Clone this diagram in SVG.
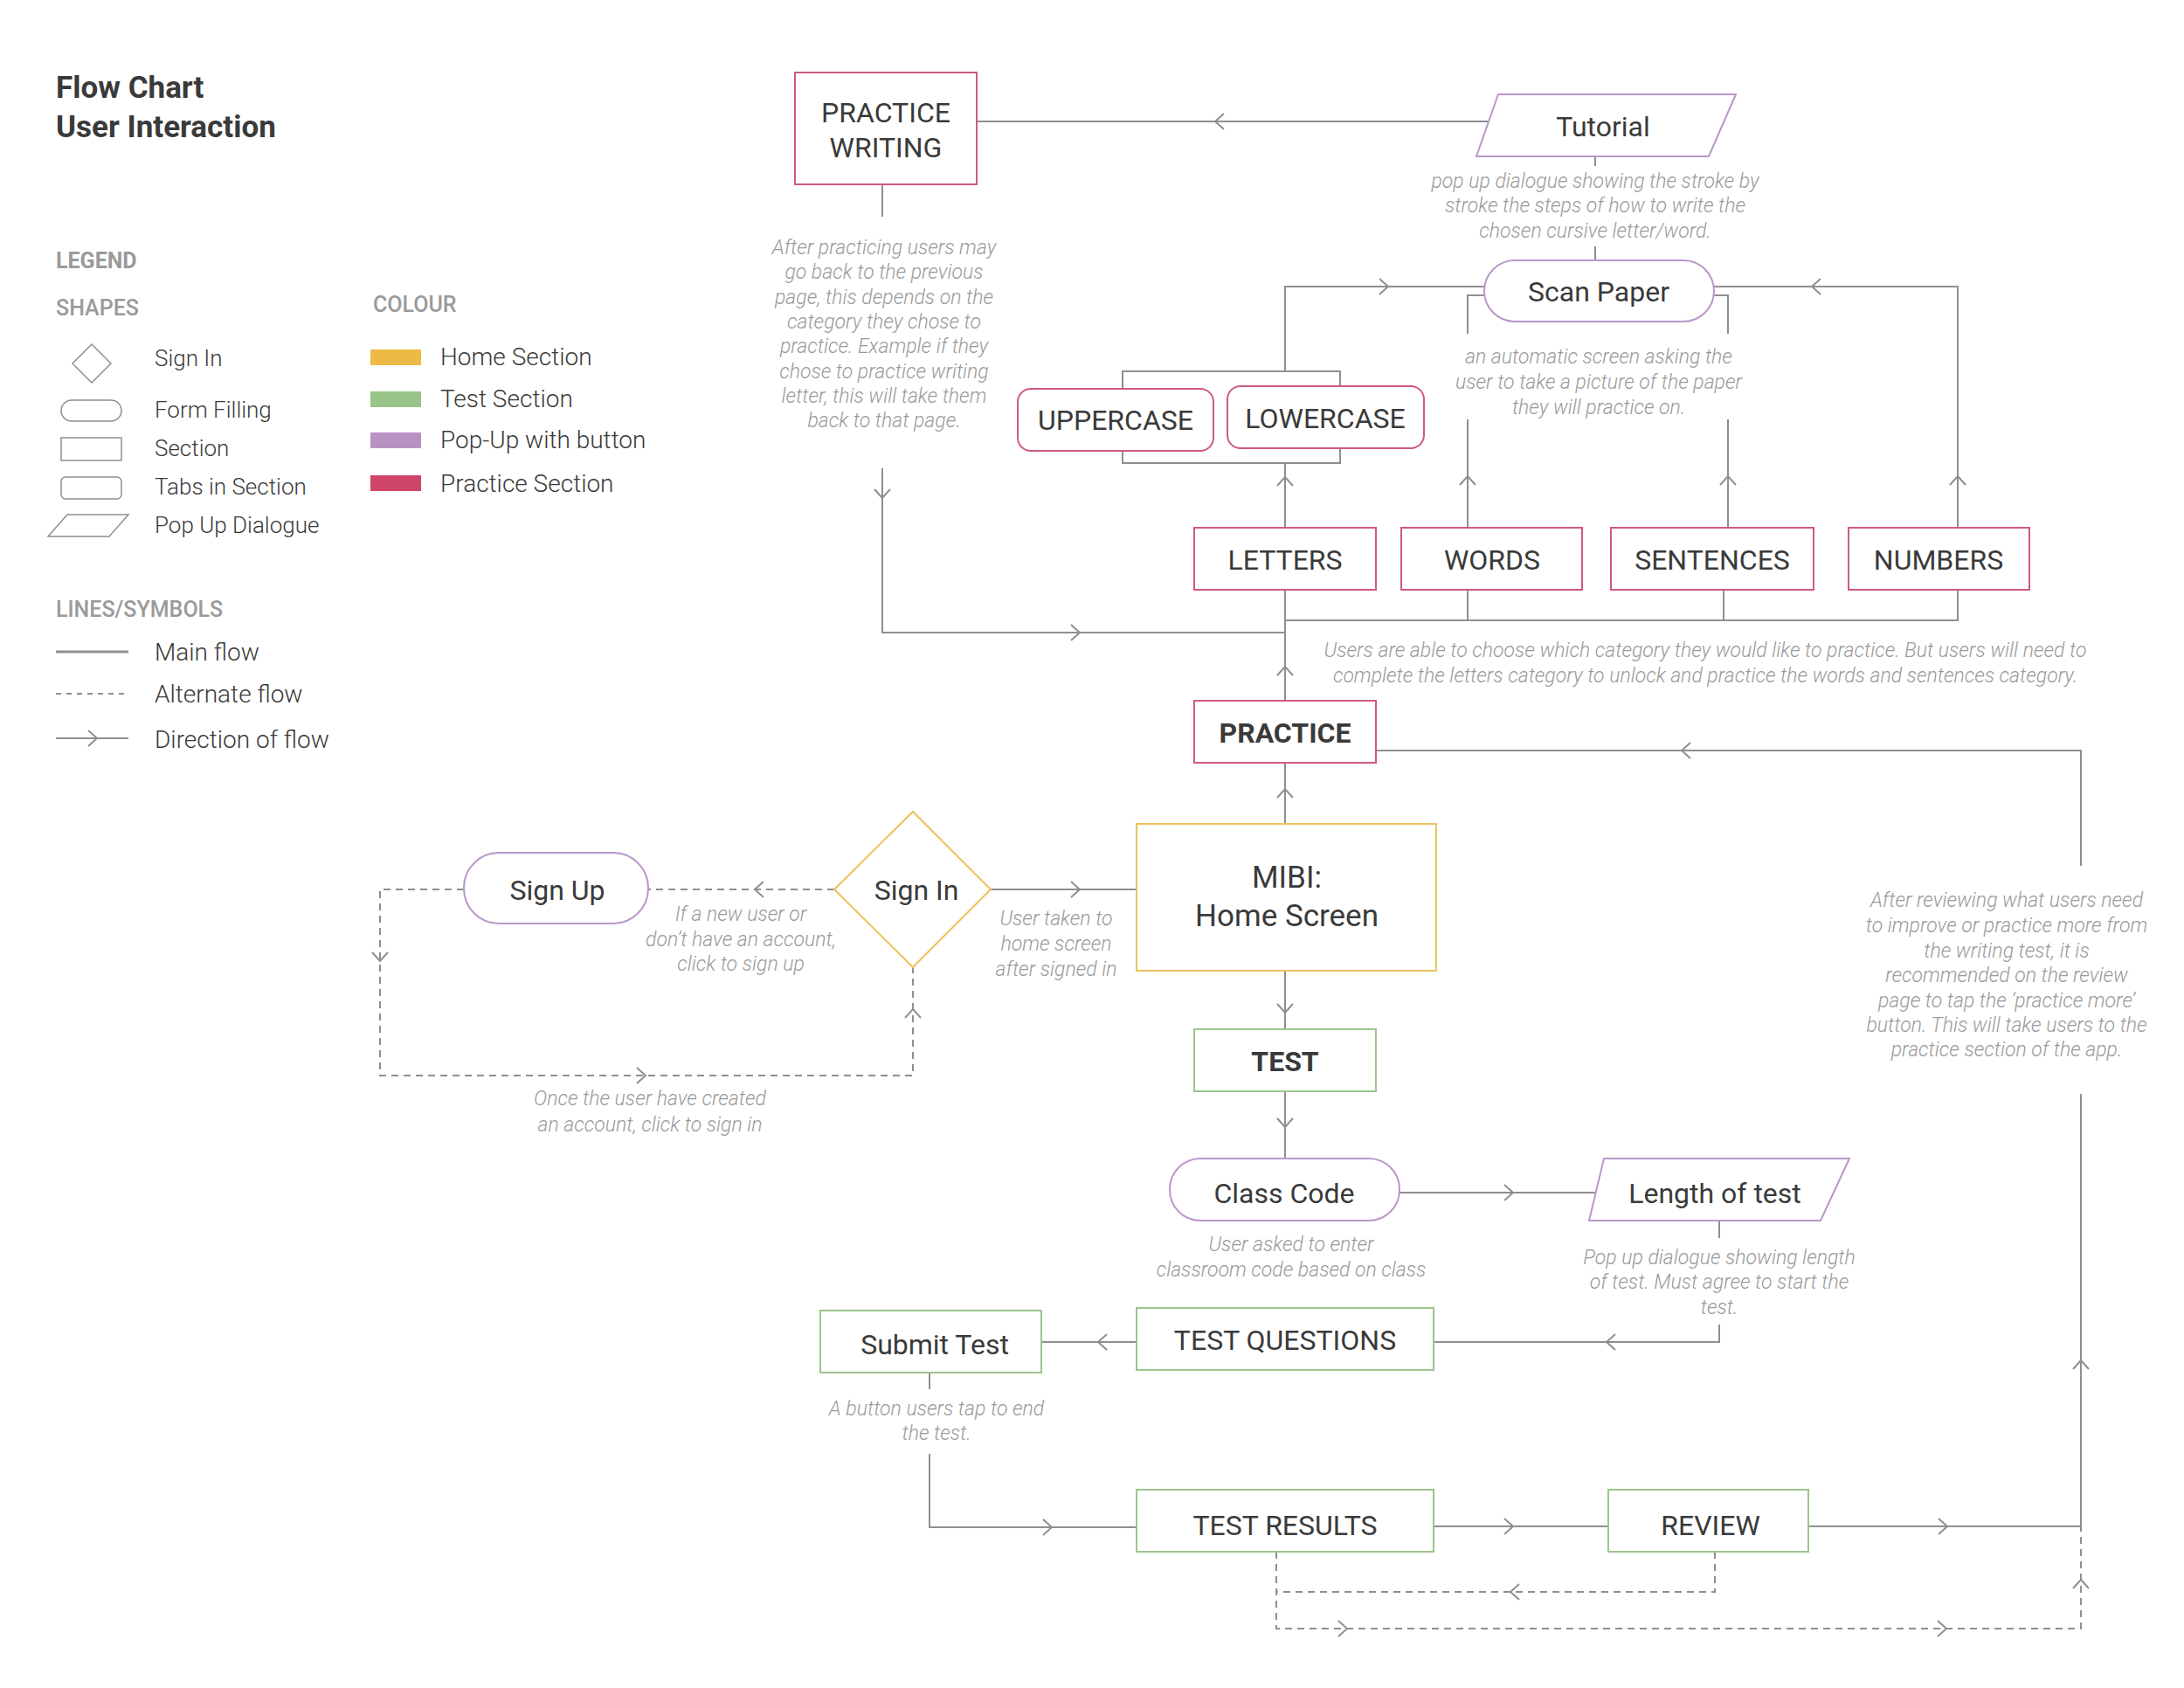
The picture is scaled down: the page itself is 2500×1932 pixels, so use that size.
<svg xmlns="http://www.w3.org/2000/svg" xmlns:xlink="http://www.w3.org/1999/xlink" width="2500" height="1932" viewBox="0 0 2500 1932">
<style>
text{font-family:Roboto,"Liberation Sans",sans-serif;fill:#3a3a3a}
.t{font-size:32px;text-anchor:middle;font-weight:400}
.b{font-weight:700}
.n{font-size:23px;font-style:italic;font-weight:300;fill:#9a9a9a;text-anchor:middle}
.lg{font-size:26px;font-weight:300;fill:#3a3a3a}
.lc{font-size:28px;font-weight:300}
.h{font-size:25px;font-weight:700;fill:#9a9a9a}
.ln{fill:none;stroke:#8f8f8f;stroke-width:2}
.d{stroke-dasharray:8,6}
.pr{fill:#fff;stroke:#cf5a7c;stroke-width:2}
.ts{fill:#fff;stroke:#9cc58e;stroke-width:2}
.pu{fill:#fff;stroke:#b997c8;stroke-width:2}
.hm{fill:#fff;stroke:#ecc25a;stroke-width:2}
.lgs{fill:none;stroke:#8f8f8f;stroke-width:1.5}
</style>
<defs>
<path id="ar" d="M-5,-9 L5,0 L-5,9" fill="none" stroke="#8f8f8f" stroke-width="2"/>
</defs>
<rect width="2500" height="1932" fill="#fff"/>

<g id="legend">
<text x="64" y="112" style="font-size:35px;font-weight:700">Flow Chart</text>
<text x="64" y="157" style="font-size:35px;font-weight:700">User Interaction</text>
<text x="64" y="307" class="h">LEGEND</text>
<text x="64" y="361" class="h" style="font-weight:500">SHAPES</text>
<text x="427" y="357" class="h" style="font-weight:500">COLOUR</text>
<polygon points="105,394 127,416 105,438 83,416" class="lgs"/>
<text x="177" y="419" class="lg">Sign In</text>
<rect x="70" y="458" width="69" height="24" rx="12" class="lgs"/>
<text x="177" y="478" class="lg">Form Filling</text>
<rect x="70" y="501" width="69" height="26" class="lgs"/>
<text x="177" y="522" class="lg">Section</text>
<rect x="70" y="546" width="69" height="25" rx="5" class="lgs"/>
<text x="177" y="566" class="lg">Tabs in  Section</text>
<polygon points="55,614 77,589 147,589 125,614" class="lgs"/>
<text x="177" y="610" class="lg">Pop Up Dialogue</text>
<rect x="424" y="400" width="58" height="18" fill="#ecba45"/>
<text x="504" y="418" class="lc">Home Section</text>
<rect x="424" y="448" width="58" height="18" fill="#98c48a"/>
<text x="504" y="466" class="lc">Test Section</text>
<rect x="424" y="495" width="58" height="18" fill="#b992c4"/>
<text x="504" y="513" class="lc">Pop-Up with button</text>
<rect x="424" y="544" width="58" height="18" fill="#cf4569"/>
<text x="504" y="563" class="lc">Practice Section</text>
<text x="64" y="706" class="h" style="font-weight:500">LINES/SYMBOLS</text>
<line x1="64" y1="746" x2="147" y2="746" class="ln" style="stroke-width:3"/>
<text x="177" y="756" class="lc">Main flow</text>
<line x1="64" y1="794" x2="147" y2="794" class="ln d" style="stroke-dasharray:6,6"/>
<text x="177" y="804" class="lc">Alternate flow</text>
<line x1="64" y1="845" x2="147" y2="845" class="ln"/>
<use xlink:href="#ar" transform="translate(106,845)"/>
<text x="177" y="856" class="lc">Direction of flow</text>
</g>

<g id="connectors">
<!-- PW <- Tutorial -->
<line x1="1118" y1="139" x2="1703" y2="139" class="ln"/>
<use xlink:href="#ar" transform="translate(1396,139) rotate(180)"/>
<line x1="1826" y1="179" x2="1826" y2="190" class="ln"/>
<line x1="1826" y1="282" x2="1826" y2="298" class="ln"/>
<!-- left branch to uppercase/lowercase -->
<polyline points="1699,328 1471,328 1471,425" class="ln"/>
<use xlink:href="#ar" transform="translate(1584,328)"/>
<polyline points="1285,445 1285,425 1534,425 1534,442" class="ln"/>
<polyline points="1285,516 1285,530 1534,530 1534,513" class="ln"/>
<line x1="1471" y1="530" x2="1471" y2="604" class="ln"/>
<use xlink:href="#ar" transform="translate(1471,551) rotate(-90)"/>
<!-- words -->
<polyline points="1702,338 1680,338 1680,382" class="ln"/>
<line x1="1680" y1="480" x2="1680" y2="604" class="ln"/>
<use xlink:href="#ar" transform="translate(1680,550) rotate(-90)"/>
<!-- sentences -->
<polyline points="1959,338 1978,338 1978,382" class="ln"/>
<line x1="1978" y1="480" x2="1978" y2="604" class="ln"/>
<use xlink:href="#ar" transform="translate(1978,550) rotate(-90)"/>
<!-- numbers -->
<polyline points="1962,328 2241,328 2241,604" class="ln"/>
<use xlink:href="#ar" transform="translate(2079,328) rotate(180)"/>
<use xlink:href="#ar" transform="translate(2241,550) rotate(-90)"/>
<!-- bus -->
<polyline points="1471,675 1471,710 2241,710 2241,675" class="ln"/>
<line x1="1680" y1="675" x2="1680" y2="710" class="ln"/>
<line x1="1973" y1="675" x2="1973" y2="710" class="ln"/>
<line x1="1471" y1="710" x2="1471" y2="802" class="ln"/>
<use xlink:href="#ar" transform="translate(1471,768) rotate(-90)"/>
<!-- practice writing back -->
<line x1="1010" y1="211" x2="1010" y2="248" class="ln"/>
<polyline points="1010,536 1010,724 1471,724" class="ln"/>
<use xlink:href="#ar" transform="translate(1010,565) rotate(90)"/>
<use xlink:href="#ar" transform="translate(1231,724)"/>
<!-- practice right / review loop -->
<polyline points="1575,859 2382,859 2382,991" class="ln"/>
<use xlink:href="#ar" transform="translate(1930,859) rotate(180)"/>
<polyline points="2070,1747 2382,1747 2382,1252" class="ln"/>
<use xlink:href="#ar" transform="translate(2224,1747)"/>
<use xlink:href="#ar" transform="translate(2382,1562) rotate(-90)"/>
<!-- mibi -> practice -->
<line x1="1471" y1="873" x2="1471" y2="943" class="ln"/>
<use xlink:href="#ar" transform="translate(1471,908) rotate(-90)"/>
<!-- sign in -> mibi -->
<line x1="1134" y1="1018" x2="1304" y2="1018" class="ln"/>
<use xlink:href="#ar" transform="translate(1231,1018)"/>
<!-- sign in -> sign up dashed -->
<line x1="955" y1="1018" x2="742" y2="1018" class="ln d"/>
<use xlink:href="#ar" transform="translate(869,1018) rotate(180)"/>
<polyline points="531,1018 435,1018 435,1231 1045,1231 1045,1107" class="ln d"/>
<use xlink:href="#ar" transform="translate(435,1095) rotate(90)"/>
<use xlink:href="#ar" transform="translate(734,1231)"/>
<use xlink:href="#ar" transform="translate(1045,1160) rotate(-90)"/>
<!-- mibi -> test -> class code -->
<line x1="1471" y1="1111" x2="1471" y2="1178" class="ln"/>
<use xlink:href="#ar" transform="translate(1471,1154) rotate(90)"/>
<line x1="1471" y1="1249" x2="1471" y2="1326" class="ln"/>
<use xlink:href="#ar" transform="translate(1471,1285) rotate(90)"/>
<!-- class code -> length -->
<line x1="1602" y1="1365" x2="1828" y2="1365" class="ln"/>
<use xlink:href="#ar" transform="translate(1727,1365)"/>
<line x1="1968" y1="1397" x2="1968" y2="1417" class="ln"/>
<polyline points="1968,1516 1968,1536 1641,1536" class="ln"/>
<use xlink:href="#ar" transform="translate(1844,1536) rotate(180)"/>
<!-- test questions -> submit -->
<line x1="1301" y1="1536" x2="1192" y2="1536" class="ln"/>
<use xlink:href="#ar" transform="translate(1262,1536) rotate(180)"/>
<line x1="1064" y1="1571" x2="1064" y2="1590" class="ln"/>
<polyline points="1064,1664 1064,1748 1301,1748" class="ln"/>
<use xlink:href="#ar" transform="translate(1199,1748)"/>
<!-- results -> review -->
<line x1="1641" y1="1747" x2="1841" y2="1747" class="ln"/>
<use xlink:href="#ar" transform="translate(1727,1747)"/>
<!-- dashed bottom -->
<polyline points="1963,1776 1963,1822 1461,1822" class="ln d"/>
<use xlink:href="#ar" transform="translate(1734,1822) rotate(180)"/>
<polyline points="1461,1776 1461,1864 2382,1864 2382,1747" class="ln d"/>
<use xlink:href="#ar" transform="translate(1537,1864)"/>
<use xlink:href="#ar" transform="translate(2223,1864)"/>
<use xlink:href="#ar" transform="translate(2382,1813) rotate(-90)"/>
</g>

<g id="practice-writing"><rect x="910" y="83" width="208" height="128" class="pr"/>
<text x="1014" y="140" class="t">PRACTICE</text><text x="1014" y="180" class="t">WRITING</text></g>
<g id="tutorial"><polygon points="1715,108 1987,108 1956,179 1690,179" class="pu"/>
<text x="1835" y="156" class="t">Tutorial</text></g>
<g id="scan-paper"><rect x="1699" y="298" width="263" height="70" rx="35" class="pu"/>
<text x="1830" y="345" class="t">Scan Paper</text></g>
<g id="uppercase"><rect x="1165" y="445" width="224" height="71" rx="15" class="pr"/>
<text x="1277" y="492" class="t">UPPERCASE</text></g>
<g id="lowercase"><rect x="1405" y="442" width="225" height="71" rx="15" class="pr"/>
<text x="1517" y="490" class="t">LOWERCASE</text></g>
<g id="letters"><rect x="1367" y="604" width="208" height="71" class="pr"/>
<text x="1471" y="652" class="t">LETTERS</text></g>
<g id="words"><rect x="1604" y="604" width="207" height="71" class="pr"/>
<text x="1708" y="652" class="t">WORDS</text></g>
<g id="sentences"><rect x="1844" y="604" width="232" height="71" class="pr"/>
<text x="1960" y="652" class="t">SENTENCES</text></g>
<g id="numbers"><rect x="2116" y="604" width="207" height="71" class="pr"/>
<text x="2219" y="652" class="t">NUMBERS</text></g>
<g id="practice"><rect x="1367" y="802" width="208" height="71" class="pr"/>
<text x="1471" y="850" class="t b">PRACTICE</text></g>
<g id="mibi"><rect x="1301" y="943" width="343" height="168" class="hm"/>
<text x="1473" y="1016" class="t" style="font-size:35px">MIBI:</text>
<text x="1473" y="1060" class="t" style="font-size:35px">Home Screen</text></g>
<g id="sign-in"><polygon points="1045,929 1134,1018 1045,1107 955,1018" class="hm"/>
<text x="1049" y="1030" class="t">Sign In</text></g>
<g id="sign-up"><rect x="531" y="976" width="211" height="81" rx="40" class="pu"/>
<text x="638" y="1030" class="t">Sign Up</text></g>
<g id="test"><rect x="1367" y="1178" width="208" height="71" class="ts"/>
<text x="1471" y="1226" class="t b">TEST</text></g>
<g id="class-code"><rect x="1339" y="1326" width="263" height="71" rx="35" class="pu"/>
<text x="1470" y="1377" class="t">Class Code</text></g>
<g id="length"><polygon points="1836,1326 2117,1326 2084,1397 1819,1397" class="pu"/>
<text x="1963" y="1377" class="t">Length of test</text></g>
<g id="test-questions"><rect x="1301" y="1497" width="340" height="71" class="ts"/>
<text x="1471" y="1545" class="t">TEST QUESTIONS</text></g>
<g id="submit-test"><rect x="939" y="1500" width="253" height="71" class="ts"/>
<text x="1070" y="1550" class="t">Submit Test</text></g>
<g id="test-results"><rect x="1301" y="1705" width="340" height="71" class="ts"/>
<text x="1471" y="1757" class="t">TEST RESULTS</text></g>
<g id="review"><rect x="1841" y="1705" width="229" height="71" class="ts"/>
<text x="1958" y="1757" class="t">REVIEW</text></g>

<g id="notes">
<text class="n"><tspan x="1826" y="215">pop up dialogue showing the stroke by</tspan><tspan x="1826" y="243">stroke the steps of how to write the</tspan><tspan x="1826" y="272">chosen cursive letter/word.</tspan></text>
<text class="n"><tspan x="1830" y="416">an automatic screen asking the</tspan><tspan x="1830" y="445">user to take a picture of the paper</tspan><tspan x="1830" y="474">they will practice on.</tspan></text>
<text class="n"><tspan x="1012" y="291">After practicing users may</tspan><tspan x="1012" y="319">go back to the previous</tspan><tspan x="1012" y="348">page, this depends on the</tspan><tspan x="1012" y="376">category they chose to</tspan><tspan x="1012" y="404">practice. Example if they</tspan><tspan x="1012" y="433">chose to practice writing</tspan><tspan x="1012" y="461">letter, this will take them</tspan><tspan x="1012" y="489">back to that page.</tspan></text>
<text class="n"><tspan x="1952" y="752">Users are able to choose which category they would like to practice. But users will need to</tspan><tspan x="1952" y="781">complete the letters category to unlock and practice the words and sentences category.</tspan></text>
<text class="n"><tspan x="1209" y="1059">User taken to</tspan><tspan x="1209" y="1088">home screen</tspan><tspan x="1209" y="1117">after signed in</tspan></text>
<text class="n"><tspan x="848" y="1054">If a new user or</tspan><tspan x="848" y="1083">don’t have an account,</tspan><tspan x="848" y="1111">click to sign up</tspan></text>
<text class="n"><tspan x="744" y="1265">Once the user have created</tspan><tspan x="744" y="1295">an account, click to sign in</tspan></text>
<text class="n"><tspan x="1478" y="1432">User asked to enter</tspan><tspan x="1478" y="1461">classroom code based on class</tspan></text>
<text class="n"><tspan x="1968" y="1447">Pop up dialogue showing length</tspan><tspan x="1968" y="1475">of test. Must agree to start the</tspan><tspan x="1968" y="1504">test.</tspan></text>
<text class="n"><tspan x="1072" y="1620">A button users tap to end</tspan><tspan x="1072" y="1648">the test.</tspan></text>
<text class="n"><tspan x="2297" y="1038">After reviewing what users need</tspan><tspan x="2297" y="1067">to improve or practice more from</tspan><tspan x="2297" y="1096">the writing test, it is</tspan><tspan x="2297" y="1124">recommended on the review</tspan><tspan x="2297" y="1153">page to tap the ‘practice more’</tspan><tspan x="2297" y="1181">button. This will take users to the</tspan><tspan x="2297" y="1209">practice section of the app.</tspan></text>
</g>
</svg>
